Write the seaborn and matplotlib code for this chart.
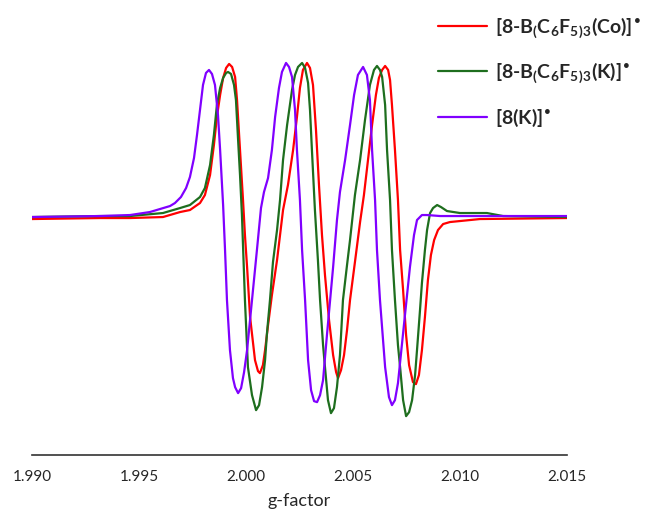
import numpy as np
import pandas as pd
import seaborn as sns
import matplotlib.pyplot as plt
from matplotlib.ticker import MultipleLocator

# EPR spectra, values (g-factor, intensity in arb. units)
g_co = [1.99000, 1.99318, 1.99458, 1.99612, 1.99692, 1.99738, 1.99785, 1.99808, 1.99832, 1.99850,
        1.99864, 1.99879, 1.99893, 1.99907, 1.99921, 1.99935, 1.99949, 1.99958, 1.99972, 1.99986,
        1.99995, 2.00005, 2.00019, 2.00042, 2.00056, 2.00065, 2.00079, 2.00089, 2.00103, 2.00121,
        2.00145, 2.00173, 2.00196, 2.00220, 2.00238, 2.00252, 2.00266, 2.00285, 2.00299, 2.00313,
        2.00327, 2.00341, 2.00355, 2.00369, 2.00388, 2.00407, 2.00421, 2.00430, 2.00444, 2.00458,
        2.00472, 2.00486, 2.00509, 2.00533, 2.00551, 2.00570, 2.00589, 2.00607, 2.00621, 2.00636,
        2.00650, 2.00664, 2.00673, 2.00682, 2.00696, 2.00710, 2.00720, 2.00734, 2.00748, 2.00762,
        2.00780, 2.00794, 2.00808, 2.00822, 2.00836, 2.00850, 2.00864, 2.00879, 2.00897, 2.00921,
        2.00953, 2.01000, 2.01093, 2.01500]
i_co = [-1, 0, 0, 1, 6, 8, 15, 23, 43, 73,
        101, 123, 140, 150, 154, 151, 141, 118, 68, 18,
        -17, -49, -99, -142, -153, -155, -147, -132, -107, -77,
        -42, 8, 33, 68, 101, 130, 148, 155, 150, 133,
        88, 33, -17, -57, -102, -137, -154, -160, -152, -137,
        -112, -82, -44, -4, 23, 58, 93, 123, 140, 148,
        152, 148, 138, 113, 68, 18, -32, -72, -117, -147,
        -164, -166, -157, -132, -99, -62, -37, -22, -12, -6,
        -4, -3, -1, 0]

g_k = [1.99000, 1.99318, 1.99458, 1.99612, 1.99692, 1.99738, 1.99785, 1.99808, 1.99832, 1.99850,
       1.99864, 1.99879, 1.99893, 1.99907, 1.99916, 1.99930, 1.99944, 1.99953, 1.99963, 1.99972,
       1.99981, 1.99995, 2.00009, 2.00028, 2.00047, 2.00061, 2.00075, 2.00089, 2.00098, 2.00112,
       2.00126, 2.00145, 2.00159, 2.00173, 2.00192, 2.00215, 2.00229, 2.00243, 2.00262, 2.00276,
       2.00290, 2.00299, 2.00308, 2.00322, 2.00336, 2.00346, 2.00360, 2.00369, 2.00383, 2.00397,
       2.00411, 2.00425, 2.00439, 2.00453, 2.00472, 2.00486, 2.00509, 2.00533, 2.00556, 2.00579,
       2.00598, 2.00612, 2.00626, 2.00636, 2.00650, 2.00659, 2.00673, 2.00682, 2.00696, 2.00710,
       2.00720, 2.00734, 2.00748, 2.00762, 2.00776, 2.00790, 2.00799, 2.00813, 2.00822, 2.00836,
       2.00846, 2.00860, 2.00874, 2.00893, 2.00911, 2.00939, 2.01000, 2.01126, 2.01201, 2.01500]
i_k = [1, 2, 2, 5, 10, 13, 21, 30, 53, 83,
       113, 130, 140, 145, 146, 144, 133, 118, 78, 43,
       3, -82, -149, -177, -192, -187, -169, -142, -115, -82,
       -44, -12, 18, 58, 93, 128, 143, 151, 155, 150,
       135, 108, 68, 8, -42, -82, -127, -149, -182, -195,
       -190, -169, -137, -82, -47, -22, 23, 58, 98, 133,
       148, 152, 148, 141, 113, 68, 18, -32, -82, -127,
       -149, -182, -198, -194, -182, -157, -132, -92, -65, -32,
       -12, 5, 10, 13, 11, 7, 5, 5, 2, 1]

g_8k = [1.99000, 1.99318, 1.99458, 1.99551, 1.99645, 1.99668, 1.99696, 1.99720, 1.99738, 1.99757,
        1.99771, 1.99785, 1.99799, 1.99813, 1.99827, 1.99841, 1.99855, 1.99869, 1.99879, 1.99893,
        1.99902, 1.99911, 1.99925, 1.99939, 1.99949, 1.99963, 1.99977, 1.99991, 2.00005, 2.00028,
        2.00051, 2.00070, 2.00084, 2.00103, 2.00121, 2.00136, 2.00154, 2.00168, 2.00187, 2.00201,
        2.00215, 2.00229, 2.00238, 2.00252, 2.00262, 2.00276, 2.00290, 2.00304, 2.00318, 2.00332,
        2.00346, 2.00360, 2.00379, 2.00407, 2.00425, 2.00439, 2.00463, 2.00486, 2.00505, 2.00523,
        2.00547, 2.00565, 2.00579, 2.00589, 2.00603, 2.00612, 2.00626, 2.00650, 2.00668, 2.00682,
        2.00696, 2.00710, 2.00734, 2.00766, 2.00785, 2.00799, 2.00822, 2.00846, 2.00907, 2.01500]
i_8k = [1, 2, 3, 6, 12, 15, 21, 30, 41, 60,
        83, 108, 133, 145, 148, 144, 133, 103, 68, 13,
        -32, -82, -132, -160, -169, -175, -170, -154, -132, -82,
        -32, 10, 26, 40, 68, 101, 130, 146, 155, 151,
        141, 108, 68, 18, -32, -82, -142, -172, -183, -184,
        -177, -162, -115, -49, -2, 26, 58, 93, 123, 143,
        151, 143, 118, 68, 18, -32, -82, -149, -179, -187,
        -182, -165, -115, -49, -17, -2, 3, 3, 2, 2]

labels = [r"[8-B$_{(}$C$_6$F$_5$$_{)}$$_3$(Co)]$^{\mathbf{•}}$",
          r"[8-B$_{(}$C$_6$F$_5$$_{)}$$_3$(K)]$^{\mathbf{•}}$",
          r"[8(K)]$^{\mathbf{•}}$"]
colors = ["#ff0000", "#1e6e1e", "#8000ff"]

sns.set_style("white")
plt.rcParams["font.family"] = ["Lato", "DejaVu Sans"]
plt.rcParams["mathtext.fontset"] = "custom"
plt.rcParams["mathtext.rm"] = "Lato:bold"
plt.rcParams["mathtext.it"] = "Lato:bold"
plt.rcParams["mathtext.bf"] = "DejaVu Sans:bold"

fig = plt.figure(figsize=(6.49, 5.12), dpi=100)
ax = fig.add_axes([0.0493, 0.111, 0.8244, 0.811])

for g, inten, lab, col in zip([g_co, g_k, g_8k], [i_co, i_k, i_8k], labels, colors):
    df = pd.DataFrame({"g": g, "I": inten})
    sns.lineplot(data=df, x="g", y="I", ax=ax, color=col, linewidth=1.6, label=lab,
                 sort=False, estimator=None)

ax.set_xlim(1.990, 2.015)
ax.set_ylim(-237, 178)
ax.set_xticks(np.arange(1.990, 2.0151, 0.005))
ax.set_xticklabels(["1.990", "1.995", "2.000", "2.005", "2.010", "2.015"], fontsize=11)
ax.xaxis.set_minor_locator(MultipleLocator(0.0025))
ax.tick_params(axis="x", which="major", direction="out", length=6, width=1, color="#333333", pad=5)
ax.tick_params(axis="x", which="minor", direction="inout", length=5, width=1, color="#333333")
ax.set_yticks([])
ax.set_ylabel("")
ax.set_xlabel("g-factor", fontsize=13, labelpad=6)
for side in ["top", "right", "left"]:
    ax.spines[side].set_visible(False)
ax.spines["bottom"].set_color("#333333")
ax.spines["bottom"].set_linewidth(1.2)

leg = ax.legend(loc="upper left", bbox_to_anchor=(0.727, 1.102), frameon=False,
                prop={"size": 14, "weight": "bold"},
                handlelength=2.5, handletextpad=0.4, labelspacing=1.1)
for line in leg.get_lines():
    line.set_linewidth(1.6)

fig.savefig("out.png", dpi=100)
